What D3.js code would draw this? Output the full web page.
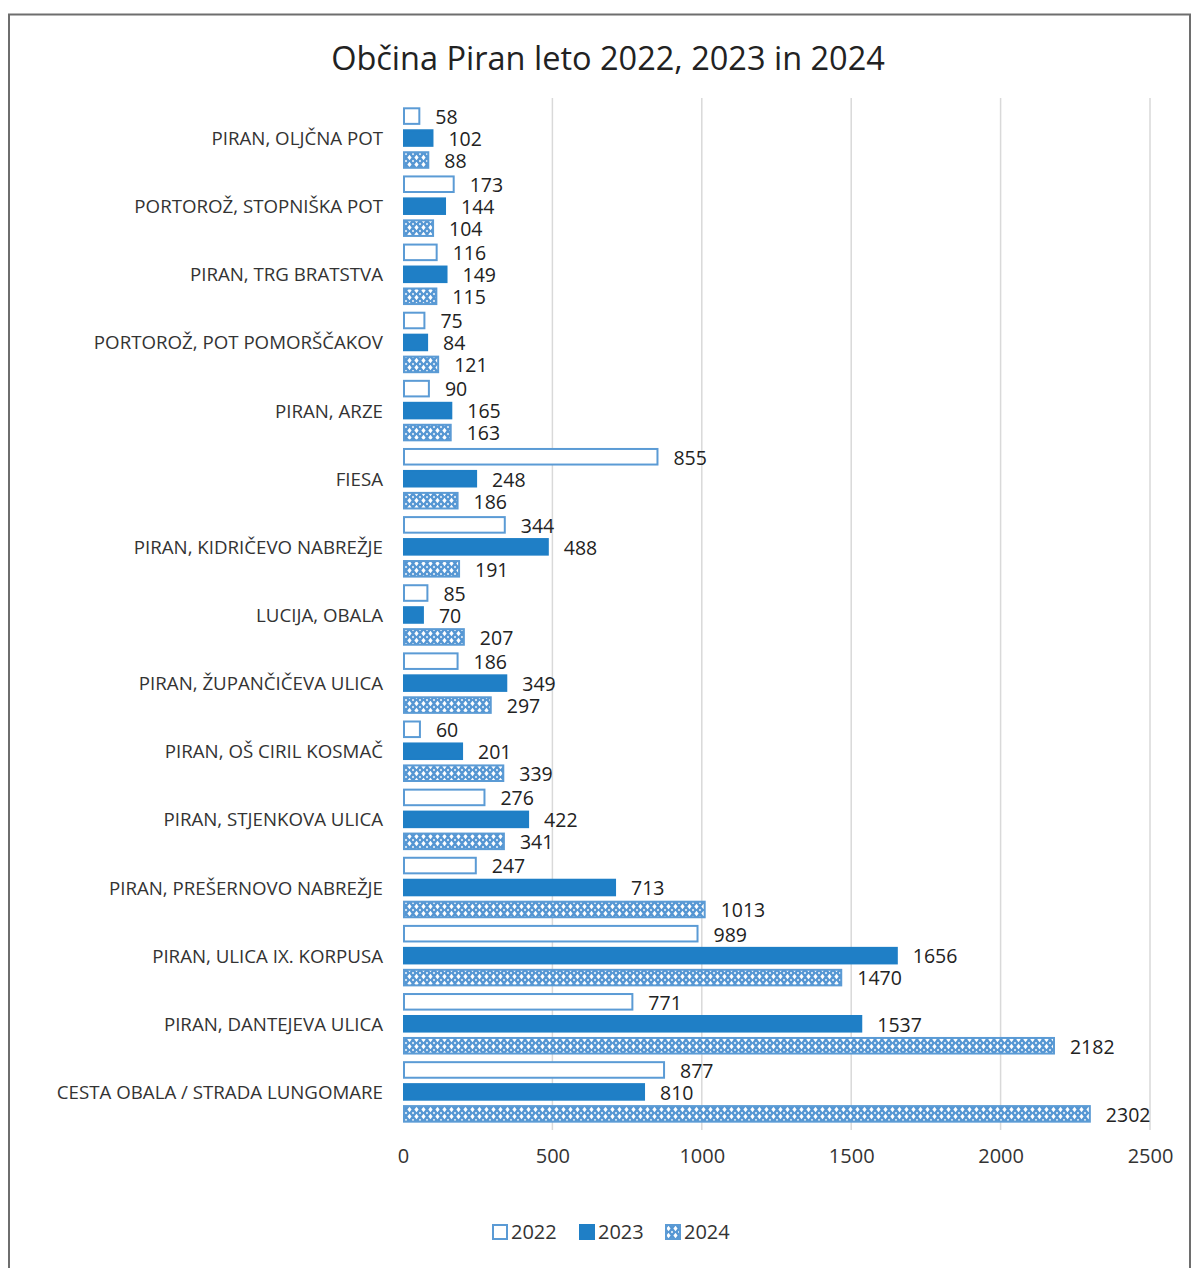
<!DOCTYPE html>
<html><head><meta charset="utf-8">
<script src="https://cdn.jsdelivr.net/npm/d3@7"></script>
<style>body{margin:0;background:#fff}svg{display:block}</style>
</head><body>
<script>
const categories = ["PIRAN, OLJČNA POT","PORTOROŽ, STOPNIŠKA POT","PIRAN, TRG BRATSTVA","PORTOROŽ, POT POMORŠČAKOV","PIRAN, ARZE","FIESA","PIRAN, KIDRIČEVO NABREŽJE","LUCIJA, OBALA","PIRAN, ŽUPANČIČEVA ULICA","PIRAN, OŠ CIRIL KOSMAČ","PIRAN, STJENKOVA ULICA","PIRAN, PREŠERNOVO NABREŽJE","PIRAN, ULICA IX. KORPUSA","PIRAN, DANTEJEVA ULICA","CESTA OBALA / STRADA LUNGOMARE"];
const seriesNames = ["2022","2023","2024"];
const v2022 = [58,173,116,75,90,855,344,85,186,60,276,247,989,771,877];
const v2023 = [102,144,149,84,165,248,488,70,349,201,422,713,1656,1537,810];
const v2024 = [88,104,115,121,163,186,191,207,297,339,341,1013,1470,2182,2302];
const xTicks = [0,500,1000,1500,2000,2500];
const title = "Občina Piran leto 2022, 2023 in 2024";

const W=1194,H=1268;
const svg=d3.select("body").append("svg").attr("width",W).attr("height",H);
const defs=svg.append("defs");
const pat=defs.append("pattern").attr("id","hatch").attr("patternUnits","userSpaceOnUse").attr("width",7).attr("height",7);
pat.append("rect").attr("width",7).attr("height",7).attr("fill","#5596d3");
pat.append("path").attr("d","M3.5,0.8 L5.6,3.5 L3.5,6.2 L1.4,3.5 Z").attr("fill","#fff");
pat.append("path").attr("d","M0,0 L1.2,0 L0,1.2 Z M7,0 L5.8,0 L7,1.2 Z M0,7 L1.2,7 L0,5.8 Z M7,7 L5.8,7 L7,5.8 Z").attr("fill","#fff");

// border
svg.append("path").attr("d",`M9,${H+2} L9,14.5 L1190,14.5 L1190,${H+2}`).attr("fill","none").attr("stroke","#6e6e6e").attr("stroke-width",2);

const font="'Open Sans', 'Liberation Sans', sans-serif";
svg.append("text").attr("x",608).attr("y",70).attr("text-anchor","middle").attr("font-family",font).attr("font-size",32.5).attr("fill","#222").text(title);

const x=d3.scaleLinear().domain([0,2500]).range([403,1150]);
const y=d3.scaleBand().domain(categories).range([104,1126]);
const yi=d3.scaleBand().domain(seriesNames).range([3.3,64.8]).paddingInner(0.2);

// grid
svg.append("g").selectAll("line").data(xTicks.slice(1)).join("line")
 .attr("x1",d=>x(d)).attr("x2",d=>x(d)).attr("y1",98).attr("y2",1130).attr("stroke","#d9d9d9").attr("stroke-width",1.5);

const xAxis=svg.append("g").attr("transform","translate(0,1135)").call(d3.axisBottom(x).tickValues(xTicks).tickFormat(d3.format("d")).tickSize(0).tickPadding(14));
xAxis.select(".domain").remove();
xAxis.selectAll("text").attr("font-family",font).attr("font-size",20).attr("fill","#333");

const yAxis=svg.append("g").attr("transform","translate(383,1)").call(d3.axisLeft(y).tickSize(0).tickPadding(0));
yAxis.select(".domain").remove();
yAxis.selectAll("text").attr("font-family",font).attr("font-size",18.7).attr("fill","#333");

const data=[];
categories.forEach((c,i)=>{data.push({c,s:"2022",v:v2022[i]},{c,s:"2023",v:v2023[i]},{c,s:"2024",v:v2024[i]});});
const style={"2022":{fill:"#fff",stroke:"#5b9bd5"},"2023":{fill:"#1f7fc6",stroke:"#1f7fc6"},"2024":{fill:"url(#hatch)",stroke:"#5b9bd5"}};
const g=svg.append("g");
g.selectAll("rect").data(data).join("rect")
 .attr("x",x(0)+1).attr("y",d=>y(d.c)+yi(d.s)+1)
 .attr("width",d=>x(d.v)-x(0)-2).attr("height",yi.bandwidth()-2)
 .attr("fill",d=>style[d.s].fill).attr("stroke",d=>style[d.s].stroke).attr("stroke-width",2);
g.selectAll("text").data(data).join("text")
 .attr("x",d=>x(d.v)+15).attr("y",d=>y(d.c)+yi(d.s)+yi.bandwidth()/2+1)
 .attr("dy","0.35em").attr("font-family",font).attr("font-size",19.5).attr("fill","#222").text(d=>d.v);

// legend
const lg=svg.append("g").attr("transform","translate(0,1232)");
const lx=[492,579,665];
seriesNames.forEach((s,i)=>{
  lg.append("rect").attr("x",lx[i]+1).attr("y",-7).attr("width",14).attr("height",14)
    .attr("fill",style[s].fill).attr("stroke",style[s].stroke).attr("stroke-width",2);
  lg.append("text").attr("x",lx[i]+19).attr("y",0).attr("dy","0.36em").attr("font-family",font).attr("font-size",20).attr("fill","#333").text(s);
});
</script>
</body></html>
